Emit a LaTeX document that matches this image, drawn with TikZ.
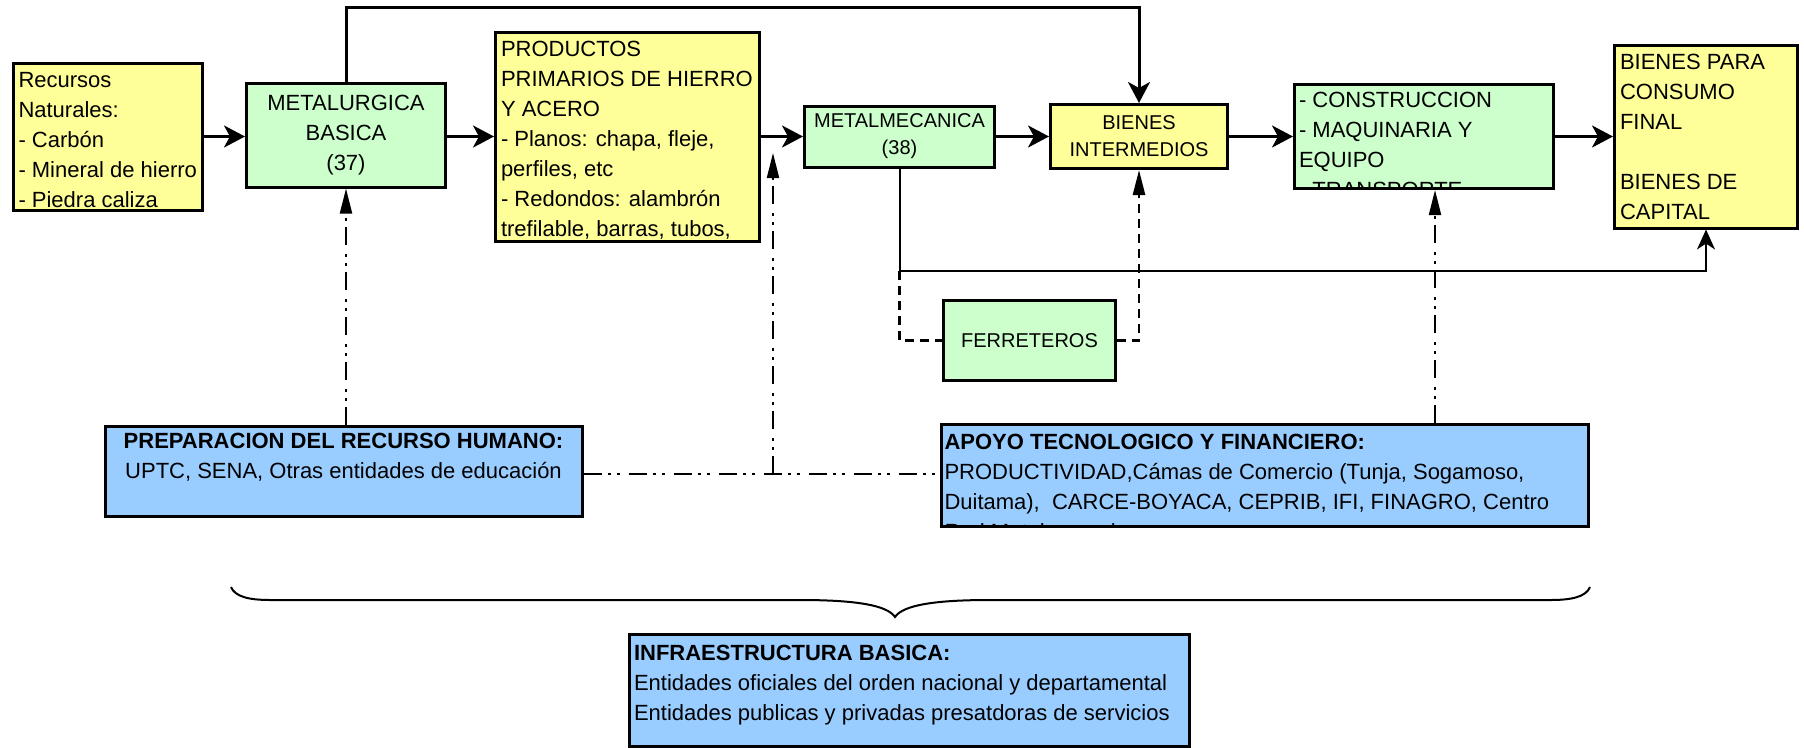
\documentclass[tikz,border=0pt]{standalone}
\usepackage{fontspec}
\setmainfont{Liberation Sans}
\usetikzlibrary{arrows.meta}
\usetikzlibrary{calc}
\definecolor{amarillo}{RGB}{255,255,153}
\definecolor{verde}{RGB}{204,255,204}
\definecolor{azul}{RGB}{153,204,255}
\newcommand\fbig{\fontsize{22}{30}\selectfont}
\newcommand\fsml{\fontsize{20}{27}\selectfont}

\begin{document}
\begin{tikzpicture}[x=1pt, y=-1pt,
    caja/.style={draw=black, line width=3pt, inner sep=4pt, font=\fbig},
    amar/.style={caja, fill=amarillo},
    verd/.style={caja, fill=verde},
    azu/.style={caja, fill=azul},
    tam/.style 2 args={minimum width=#1pt, minimum height=#2pt},
    recorte/.style 2 args={path picture={\node[anchor=north west, inner sep=0pt, outer sep=0pt,
        minimum width=0pt, minimum height=0pt, align=left, font=\fbig]
        at ([shift={(#1)}]path picture bounding box.north west) {#2};}},
    flujo/.style={line width=3pt, -{Stealth[length=21pt, width=22pt, inset=6pt]}},
    fino/.style={line width=2pt, -{Stealth[length=20pt, width=18pt, inset=6pt]}},
    guion/.style={line width=2.5pt, dash pattern=on 9pt off 6pt},
    punteado/.style={line width=2pt, dash pattern=on 18pt off 6pt on 3pt off 6pt on 3pt off 9pt},
    punta/.style={-{Triangle[length=25pt, width=12pt]}}]
    \useasboundingbox (0,0) rectangle (1804,747);

    \node[amar, tam={189}{147},
        recorte={5pt,-9pt}{Recursos\\Naturales:\\- Carbón\\- Mineral de hierro\\- Piedra caliza}]
        (rec) at (108,136.5) {};
    \node[verd, tam={199}{104}, align=center] (met) at (346,135) {METALURGICA\\BASICA\\(37)};
    \node[amar, tam={264}{209},
        recorte={5.5pt,-9.5pt}{PRODUCTOS\\PRIMARIOS DE HIERRO\\Y ACERO\\- Planos: chapa, fleje,\\perfiles, etc\\- Redondos: alambrón\\trefilable, barras, tubos,}]
        (prod) at (627.5,136.5) {};
    \node[verd, tam={190}{61}, font=\fsml, align=center] (mmec) at (899.5,136.5) {METALMECANICA\\(38)};
    \node[amar, tam={177}{64}, font=\fsml, align=center] (bint) at (1139,136.5) {BIENES\\INTERMEDIOS};
    \node[verd, tam={259}{104},
        recorte={4.5pt,-7.5pt}{- CONSTRUCCION\\- MAQUINARIA Y\\EQUIPO\\- TRANSPORTE}]
        (cons) at (1424,136.5) {};
    \node[amar, tam={183}{183},
        recorte={5.5pt,-9.5pt}{BIENES PARA\\CONSUMO\\FINAL\\[30pt]BIENES DE\\CAPITAL}]
        (bfin) at (1706,136.5) {};
    \node[verd, tam={172}{80}, font=\fsml] (ferr) at (1029.5,340.5) {FERRETEROS};
    \node[azu, tam={477}{90}, align=center] (prep) at (343.5,471)
        {\textbf{PREPARACION DEL RECURSO HUMANO:}\\UPTC, SENA, Otras entidades de educación\\\mbox{}};
    \node[azu, tam={647}{102},
        recorte={3pt,-10pt}{\textbf{APOYO TECNOLOGICO Y FINANCIERO:}\\PRODUCTIVIDAD,Cámas de Comercio (Tunja, Sogamoso,\\Duitama), \ CARCE-BOYACA, CEPRIB, IFI, FINAGRO, Centro\\Red Metalmecanica}]
        (apoyo) at (1265,475.5) {};
    \node[azu, tam={560}{112},
        recorte={4.5pt,-11pt}{\textbf{INFRAESTRUCTURA BASICA:}\\Entidades oficiales del orden nacional y departamental\\Entidades publicas y privadas presatdoras de servicios}]
        (infra) at (909.5,690.5) {};

    \coordinate (arriba) at (0,7);
    \coordinate (bajo) at (0,271);
    \coordinate (cruce) at (773,474);
    \coordinate (libre) at (773,153);
    \coordinate (tc) at (1435,0);
    \coordinate (llaveI) at (231,587);
    \coordinate (punto) at (895,617);
    \coordinate (llaveD) at (1590,587);

    \draw[flujo] (rec) -- (rec -| met.west);
    \draw[flujo] (met.east |- prod) -- (prod);
    \draw[flujo] (prod) -- (mmec);
    \draw[flujo] (mmec) -- (bint);
    \draw[flujo] (bint) -- (cons);
    \draw[flujo] (cons) -- (bfin);
    \draw[flujo] (met.north) -- (met.north |- arriba) -| (bint.north);

    \draw[fino] (mmec.south) -- (mmec.south |- bajo) -| (bfin.south);
    \draw[guion] (mmec.south |- bajo) |- (ferr.west);
    \draw[guion, punta] (ferr.east) -| (bint.south);

    \draw[punteado, punta] (prep.north -| met.south) -- (met.south);
    \draw[punteado] (prep.east |- cruce) -- (apoyo.west |- cruce);
    \draw[punteado, punta] (cruce) -- (libre);
    \draw[punteado, punta] (apoyo.north -| tc) -- (cons.south -| tc);

    \draw[line width=2pt] (llaveI) .. controls +(4,10) and +(-20,0) .. (270,600)
        -- (800,600) .. controls +(55,0) and +(-8,-12) .. (punto)
        .. controls +(8,-12) and +(-55,0) .. (990,600)
        -- (1551,600) .. controls +(20,0) and +(-4,10) .. (llaveD);
\end{tikzpicture}
\end{document}
